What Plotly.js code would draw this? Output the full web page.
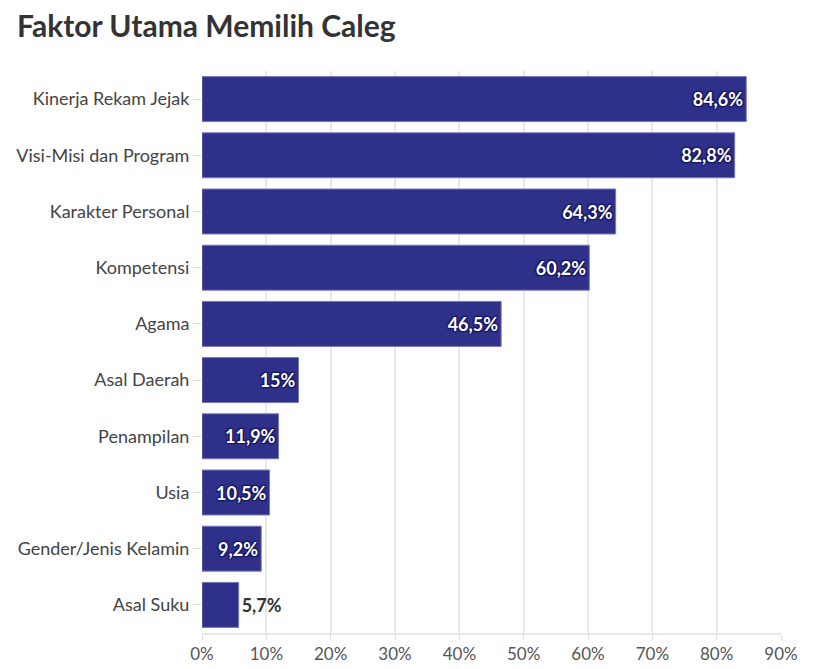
<!DOCTYPE html>
<html>
<head>
<meta charset="utf-8">
<script src="https://cdn.plot.ly/plotly-3.0.1.min.js"></script>
<style>
  html, body { margin: 0; padding: 0; background: #fff; }
  #chart { width: 838px; height: 669px; }
</style>
</head>
<body>
<div id="chart"></div>
<script>
// data (percent)
var factors = [
  'Kinerja Rekam Jejak', 'Visi-Misi dan Program', 'Karakter Personal', 'Kompetensi',
  'Agama', 'Asal Daerah', 'Penampilan', 'Usia', 'Gender/Jenis Kelamin', 'Asal Suku'
];
var shares = [84.6, 82.8, 64.3, 60.2, 46.5, 15, 11.9, 10.5, 9.2, 5.7];
var tickVals = [0, 10, 20, 30, 40, 50, 60, 70, 80, 90];

var labels = shares.map(function (v) { return String(v).replace('.', ',') + '%'; });
var positions = shares.map(function (v) { return v < 8 ? 'outside' : 'inside'; });

var trace = {
  type: 'bar',
  orientation: 'h',
  x: shares,
  y: factors,
  text: labels,
  textposition: positions,
  insidetextanchor: 'end',
  cliponaxis: false,
  marker: { color: '#2e3089', line: { color: '#7678b8', width: 1 } },
  insidetextfont: {
    family: 'Lato, sans-serif', size: 18, color: '#ffffff', weight: 700,
    shadow: '1px 1px 1px #15155a, -1px -1px 1px #15155a, 1px -1px 1px #15155a, -1px 1px 1px #15155a'
  },
  outsidetextfont: { family: 'Lato, sans-serif', size: 18, color: '#333333', weight: 700 },
  hoverinfo: 'skip'
};

var layout = {
  width: 838,
  height: 669,
  margin: { t: 71, b: 36, l: 202, r: 57 },
  paper_bgcolor: '#ffffff',
  plot_bgcolor: '#ffffff',
  font: { family: 'Lato, sans-serif', size: 17, color: '#555555' },
  title: {
    text: 'Faktor Utama Memilih Caleg',
    font: { family: 'Lato, sans-serif', size: 30, color: '#333333', weight: 700 },
    x: 17 / 838, xanchor: 'left', xref: 'container',
    y: 0.96, yanchor: 'middle'
  },
  bargap: 0.2,
  showlegend: false,
  xaxis: {
    range: [0, 90],
    tickvals: tickVals,
    ticktext: tickVals.map(function (v) { return v + '%'; }),
    showgrid: true,
    gridcolor: '#e8e8e8',
    gridwidth: 2,
    zeroline: false,
    showline: true,
    linecolor: '#e8e8e8',
    linewidth: 2,
    ticks: 'outside',
    ticklen: 5,
    tickcolor: '#e0e0e0',
    tickfont: { size: 17, color: '#555555' },
    fixedrange: true
  },
  yaxis: {
    autorange: 'reversed',
    ticks: 'outside',
    ticklen: 8,
    tickcolor: '#d8d8d8',
    tickfont: { size: 18, color: '#444444' },
    showline: false,
    fixedrange: true
  }
};

Plotly.newPlot('chart', [trace], layout, { displayModeBar: false, staticPlot: true });
</script>
</body>
</html>
